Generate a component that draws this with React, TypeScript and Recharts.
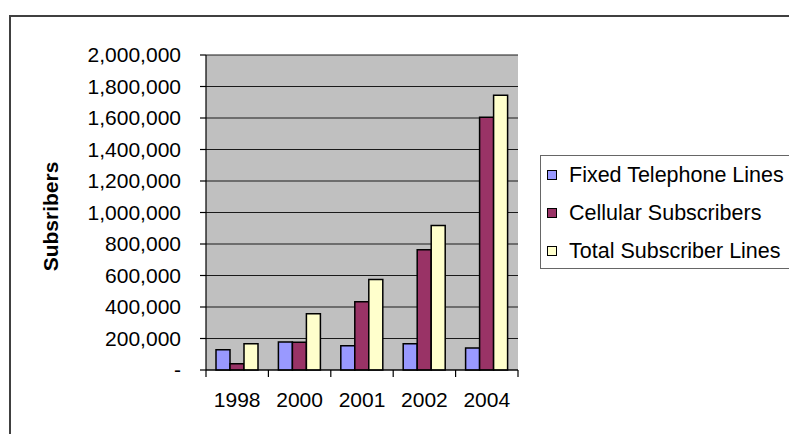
import { BarChart, Bar, XAxis, YAxis, CartesianGrid } from 'recharts'

const years = ['1998', '2000', '2001', '2002', '2004']
const fixedLines = [128000, 178000, 154000, 167000, 139000]
const cellular = [39000, 176000, 434000, 764000, 1604000]
const totalLines = [167000, 357000, 574000, 917000, 1744000]
const yTicks = [0, 200000, 400000, 600000, 800000, 1000000, 1200000, 1400000, 1600000, 1800000, 2000000]

const seriesNames = ['Fixed Telephone Lines', 'Cellular Subscribers', 'Total Subscriber Lines']
const seriesColors = ['#9999FF', '#993366', '#FFFFCC']

const data = years.map((year, i) => ({
  year,
  fixed: fixedLines[i],
  cellular: cellular[i],
  total: totalLines[i],
}))

const font = "'Liberation Sans', Arial, sans-serif"

const formatTick = (v: number) => (v === 0 ? '-' : v.toLocaleString('en-US'))

function YearTick(props: any) {
  const { x, y, payload } = props
  const half = payload.offset ?? 31.2
  const isLast = payload.value === years[years.length - 1]
  return (
    <g>
      <line x1={x - half} x2={x - half} y1={y} y2={y + 7} stroke="#000" strokeWidth={1.2} />
      {isLast && <line x1={x + half} x2={x + half} y1={y} y2={y + 7} stroke="#000" strokeWidth={1.2} />}
      <text x={x} y={y + 37} textAnchor="middle" fontSize={21} fill="#000" fontFamily={font}>
        {payload.value}
      </text>
    </g>
  )
}

function YLabel(props: any) {
  const { viewBox } = props
  const cx = viewBox.x + 50
  const cy = viewBox.y + viewBox.height / 2 + 4
  return (
    <text
      x={cx}
      y={cy}
      transform={`rotate(-90 ${cx} ${cy})`}
      textAnchor="middle"
      dominantBaseline="central"
      fontSize={21}
      fontWeight="bold"
      fill="#000"
      fontFamily={font}
    >
      Subsribers
    </text>
  )
}

export default function App() {
  return (
    <div
      style={{
        position: 'absolute',
        left: 0,
        top: 0,
        width: 789,
        height: 434,
        overflow: 'hidden',
        background: '#fff',
        fontFamily: font,
      }}
    >
      <div
        style={{
          position: 'absolute',
          left: 9,
          top: 15,
          width: 900,
          height: 600,
          border: '2px solid #404040',
        }}
      />
      <div style={{ position: 'absolute', left: 0, top: 0 }}>
        <BarChart
          width={789}
          height={434}
          data={data}
          margin={{ top: 55, right: 271, bottom: 0, left: 0 }}
          barGap={0}
          barSize={14}
        >
          <CartesianGrid vertical={false} fill="#c0c0c0" fillOpacity={1} stroke="#1a1a1a" strokeWidth={1.2} />
          <XAxis
            dataKey="year"
            interval={0}
            tickSize={0}
            tickMargin={0}
            tickLine={false}
            axisLine={{ stroke: '#000', strokeWidth: 1.2 }}
            tick={<YearTick />}
            height={64}
          />
          <XAxis
            xAxisId="top"
            dataKey="year"
            orientation="top"
            height={0}
            tick={false}
            tickLine={false}
            axisLine={{ stroke: '#888', strokeWidth: 2 }}
          />
          <YAxis
            width={206}
            domain={[0, 2000000]}
            ticks={yTicks}
            interval={0}
            tickSize={6}
            tickMargin={19}
            tickFormatter={formatTick}
            tick={{ fontSize: 21, fill: '#000', fontFamily: font }}
            tickLine={{ stroke: '#000', strokeWidth: 1.2 }}
            axisLine={{ stroke: '#000', strokeWidth: 1.2 }}
            label={<YLabel />}
          />
          <YAxis
            yAxisId="right"
            orientation="right"
            width={0}
            domain={[0, 2000000]}
            tick={false}
            tickLine={false}
            axisLine={{ stroke: '#888', strokeWidth: 2 }}
          />
          <Bar dataKey="fixed" name={seriesNames[0]} fill={seriesColors[0]} stroke="#000" strokeWidth={1.5} isAnimationActive={false} />
          <Bar dataKey="cellular" name={seriesNames[1]} fill={seriesColors[1]} stroke="#000" strokeWidth={1.5} isAnimationActive={false} />
          <Bar dataKey="total" name={seriesNames[2]} fill={seriesColors[2]} stroke="#000" strokeWidth={1.5} isAnimationActive={false} />
        </BarChart>
      </div>
      <div
        style={{
          position: 'absolute',
          left: 540,
          top: 155,
          width: 300,
          height: 112,
          border: '1.5px solid #666',
          background: '#fff',
        }}
      >
        {seriesNames.map((name, i) => (
          <div
            key={name}
            style={{
              position: 'absolute',
              left: 0,
              top: i * 38,
              height: 38,
              display: 'flex',
              alignItems: 'center',
              whiteSpace: 'nowrap',
            }}
          >
            <span
              style={{
                display: 'inline-block',
                width: 8,
                height: 8,
                marginLeft: 6,
                marginRight: 12,
                background: seriesColors[i],
                border: '1px solid #000',
              }}
            />
            <span style={{ fontSize: 21.5, color: '#000' }}>{name}</span>
          </div>
        ))}
      </div>
    </div>
  )
}
